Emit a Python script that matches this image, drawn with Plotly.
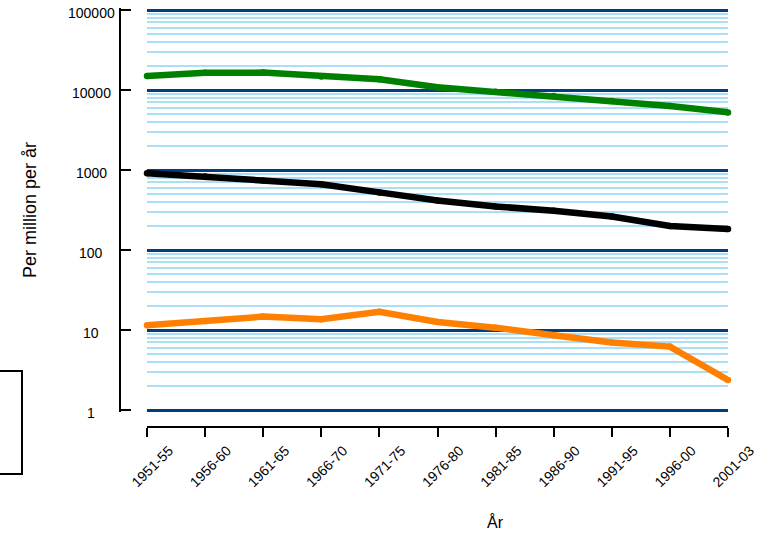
import math
import plotly.graph_objects as go

periods = ["1951-55", "1956-60", "1961-65", "1966-70", "1971-75", "1976-80",
           "1981-85", "1986-90", "1991-95", "1996-00", "2001-03"]
green_values = [15000, 16400, 16500, 14700, 13600, 10800, 9500, 8400, 7300, 6300, 5250]
black_values = [910, 830, 740, 665, 525, 415, 350, 310, 262, 200, 183]
orange_values = [11.5, 13.0, 14.7, 13.6, 16.9, 12.6, 10.7, 8.6, 7.0, 6.2, 2.37]
y_tick_values = [1, 10, 100, 1000, 10000, 100000]
y_tick_labels = ["1", "10", "100", "1000", "10000", "100000"]

W, H = 760, 536
ML, MR, MT, MB = 120, 32, 8, 107
PW = W - ML - MR
PH = H - MT - MB
FONT = "Liberation Sans, Arial, sans-serif"
EPS = 0.025  # log-range padding so edge gridlines are drawn
DEC = 80.0   # pixels per decade

def px_x(px):
    return (px - ML) / PW

def px_y(py):
    return (H - MB - py) / PH

fig = go.Figure()
for vals, col in [(green_values, "#008000"), (black_values, "#000000"), (orange_values, "#ff8000")]:
    fig.add_trace(go.Scatter(
        x=periods, y=vals, mode="lines+markers",
        line=dict(color=col, width=6.5),
        marker=dict(color=col, size=6.5),
        cliponaxis=False, showlegend=False, hoverinfo="skip"))

annotations = []
for v, lab in zip(y_tick_values, y_tick_labels):
    annotations.append(dict(
        x=px_x(91), xref="paper", y=math.log10(v), yref="y",
        text=lab, showarrow=False, xanchor="center", yanchor="middle",
        yshift=-3, font=dict(family=FONT, size=14, color="#000")))
annotations.append(dict(
    x=px_x(30), xref="paper", y=px_y(210), yref="paper",
    text="Per million per år", textangle=-90, showarrow=False,
    xanchor="center", yanchor="middle", font=dict(family=FONT, size=18, color="#000")))
annotations.append(dict(
    x=px_x(495), xref="paper", y=px_y(522), yref="paper",
    text="År", showarrow=False, xanchor="center", yanchor="middle",
    font=dict(family=FONT, size=16, color="#000")))

y_bottom_px = 410 + EPS * DEC
y_top_px = 10 - EPS * DEC

fig.update_layout(
    width=W, height=H, autosize=False,
    margin=dict(l=ML, r=MR, t=MT, b=MB, pad=0, autoexpand=False),
    paper_bgcolor="white", plot_bgcolor="white",
    font=dict(family=FONT, color="#000"),
    annotations=annotations,
    shapes=[dict(type="rect", xref="paper", yref="paper",
                 x0=px_x(-20), x1=px_x(22), y0=px_y(474), y1=px_y(371),
                 line=dict(color="black", width=2), fillcolor="rgba(0,0,0,0)")],
    xaxis=dict(
        type="category", range=[0, len(periods) - 1],
        domain=[px_x(147), px_x(728)], anchor="free", position=px_y(427),
        automargin=False,
        showgrid=False, zeroline=False,
        showline=True, linecolor="black", linewidth=2,
        ticks="outside", ticklen=9, tickwidth=2, tickcolor="black",
        tickangle=-45, tickfont=dict(family=FONT, size=14, color="#000"),
        ticklabelshift=22),
    yaxis=dict(
        type="log", range=[-EPS, 5 + EPS], dtick=1,
        domain=[px_y(y_bottom_px), px_y(y_top_px)], anchor="free", position=0,
        automargin=False,
        showgrid=True, gridcolor="#003f7f", gridwidth=3,
        minor=dict(dtick="D1", showgrid=True, gridcolor="#abdff6", gridwidth=2, ticks=""),
        zeroline=False, showline=True, linecolor="black", linewidth=2,
        ticks="inside", ticklen=10, tickwidth=2, tickcolor="black",
        showticklabels=False),
)

fig.write_html("out.html", config={"displayModeBar": False},
               post_script="document.body.style.margin='0';")
